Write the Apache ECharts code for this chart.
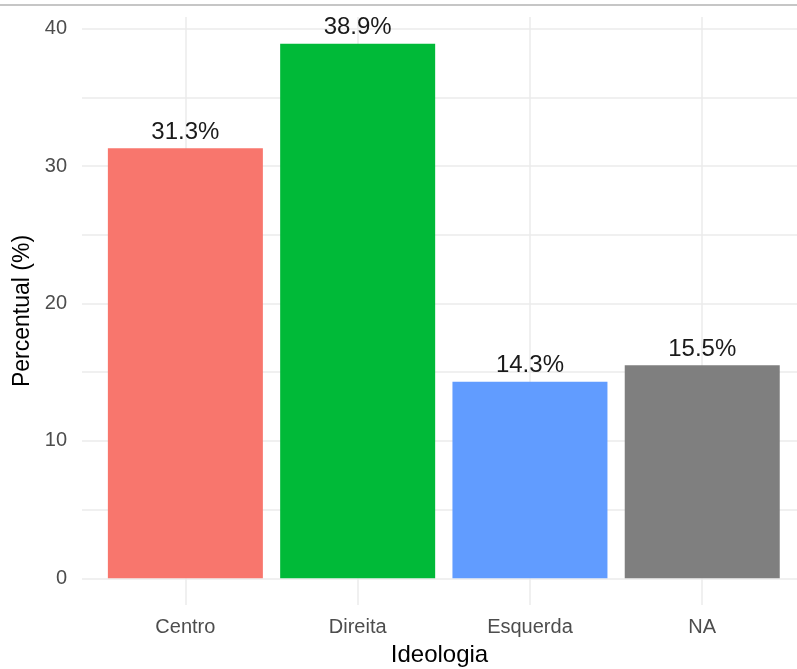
<!DOCTYPE html>
<html>
<head>
<meta charset="utf-8">
<script src="https://cdn.jsdelivr.net/npm/echarts@6/dist/echarts.min.js"></script>
<style>
  html, body { margin: 0; padding: 0; background: #fff; }
  #chart { width: 797px; height: 669px; }
</style>
</head>
<body>
<div id="chart"></div>
<script>
// dados
const categorias = ["Centro", "Direita", "Esquerda", "NA"];
const percentuais = [31.3, 38.9, 14.3, 15.5];
const cores = ["#F8766D", "#00BA38", "#619CFF", "#7F7F7F"];
const yTicks = [0, 10, 20, 30, 40];
const yGrid = [0, 5, 10, 15, 20, 25, 30, 35, 40];
const xPos = [1, 2, 3, 4];

const fonte = "'Liberation Sans', Arial, sans-serif";
const chart = echarts.init(document.getElementById("chart"));

const option = {
  animation: false,
  backgroundColor: "#fff",
  textStyle: { fontFamily: fonte },
  // linha cinza no topo da imagem
  graphic: [{
    type: "line",
    shape: { x1: 0, y1: 5, x2: 797, y2: 5 },
    style: { stroke: "#b3b3b3", lineWidth: 1.5 }
  }],
  grid: { left: 82, right: 0, top: 17, bottom: 64, containLabel: false, outerBoundsMode: "none" },
  xAxis: {
    type: "value",
    min: 0.4,
    max: 4.55,
    name: "Ideologia",
    nameLocation: "middle",
    nameGap: 38,
    nameTextStyle: { fontSize: 24, color: "#000", fontFamily: fonte },
    axisLine: { show: false },
    axisTick: { show: false, customValues: xPos },
    axisLabel: {
      customValues: xPos,
      margin: 12,
      fontSize: 20,
      color: "#4d4d4d",
      fontFamily: fonte,
      formatter: v => categorias[Math.round(v) - 1]
    },
    splitLine: { show: true, lineStyle: { color: "#ebebeb", width: 1.5 } }
  },
  yAxis: {
    type: "value",
    min: -1.945,
    max: 40.845,
    name: "Percentual (%)",
    nameLocation: "middle",
    nameGap: 38,
    nameTextStyle: { fontSize: 23, color: "#000", fontFamily: fonte },
    axisLine: { show: false },
    axisTick: { show: false, customValues: yGrid },
    axisLabel: {
      customValues: yTicks,
      margin: 15,
      fontSize: 20,
      color: "#4d4d4d",
      fontFamily: fonte
    },
    splitLine: { show: true, lineStyle: { color: "#ebebeb", width: 1.5 } }
  },
  series: [{
    type: "bar",
    barWidth: 155,
    data: categorias.map((c, i) => ({
      value: [xPos[i], percentuais[i]],
      itemStyle: { color: cores[i] }
    })),
    label: {
      show: true,
      position: "top",
      distance: 4,
      fontSize: 24,
      color: "#1a1a1a",
      fontFamily: fonte,
      formatter: p => p.value[1].toFixed(1) + "%"
    }
  }]
};

chart.setOption(option);
</script>
</body>
</html>
